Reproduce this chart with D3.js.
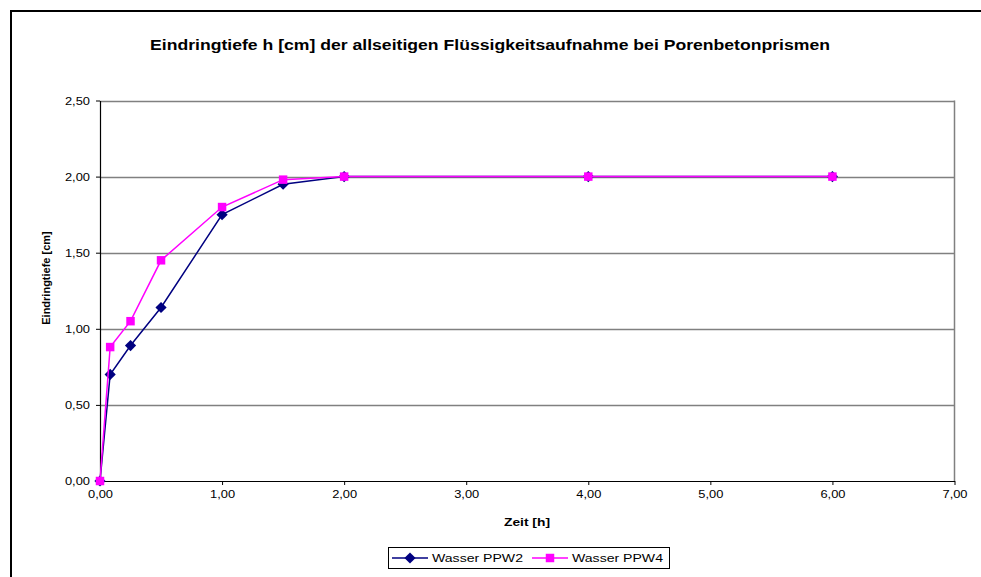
<!DOCTYPE html>
<html><head><meta charset="utf-8">
<script src="https://cdn.jsdelivr.net/npm/d3@7"></script>
<style>body{margin:0;background:#fff}svg{display:block;font-family:"Liberation Sans",Arial,sans-serif}</style>
</head><body><svg id="c" width="981" height="577"></svg>
<script>
const timeH = [0, 0.0833, 0.25, 0.5, 1, 1.5, 2, 4, 6];
const ppw2 = [0, 0.70, 0.89, 1.14, 1.75, 1.95, 2.00, 2.00, 2.00];
const ppw4 = [0, 0.88, 1.05, 1.45, 1.80, 1.98, 2.00, 2.00, 2.00];
const xTicks = [0,1,2,3,4,5,6,7];
const yTicks = [0,0.5,1,1.5,2,2.5];
const seriesNames = ["Wasser PPW2","Wasser PPW4"];
const title = "Eindringtiefe h [cm] der allseitigen Flüssigkeitsaufnahme bei Porenbetonprismen";
const xTitle = "Zeit [h]", yTitle = "Eindringtiefe [cm]";

const svg = d3.select("#c");
const fmt = v => d3.format(".2f")(v).replace(".", ",");
const L=100, R=954.5, T=100.5, B=481;
const SX = 1.17;
const x = d3.scaleLinear().domain([0,7]).range([L,R]);
const y = d3.scaleLinear().domain([0,2.5]).range([B,T]);

// outer border
svg.append("path").attr("d","M11,590 V11 H990").attr("fill","none").attr("stroke","#000").attr("stroke-width",2);

svg.append("text").attr("x",490).attr("y",50).attr("text-anchor","middle")
  .attr("font-weight","bold").attr("font-size",14.5)
  .attr("textLength",680).attr("lengthAdjust","spacingAndGlyphs").text(title);

// grid
svg.append("g").selectAll("line").data(yTicks.filter(d=>d>0)).join("line")
  .attr("x1",L).attr("x2",R).attr("y1",d=>Math.round(y(d))+0.5).attr("y2",d=>Math.round(y(d))+0.5)
  .attr("stroke","#808080").attr("stroke-width",1.5);
svg.append("line").attr("x1",R).attr("x2",R).attr("y1",T).attr("y2",B).attr("stroke","#808080").attr("stroke-width",1.5);

// axes
const xa = svg.append("g").attr("transform",`translate(0,${B})`)
  .call(d3.axisBottom(x).tickValues(xTicks).tickFormat(fmt).tickSizeInner(4).tickSizeOuter(0).tickPadding(5));
const ya = svg.append("g").attr("transform",`translate(${L},0)`)
  .call(d3.axisLeft(y).tickValues(yTicks).tickFormat(fmt).tickSizeInner(4).tickSizeOuter(0).tickPadding(6));
[xa,ya].forEach(a=>{a.select(".domain").attr("stroke","#000").attr("stroke-width",1.2);
  a.selectAll(".tick line").attr("stroke","#000");
  a.selectAll("text").attr("font-size",11).attr("fill","#000").attr("font-family","Liberation Sans, Arial, sans-serif")
   .each(function(){const t=d3.select(this);const tx=+t.attr("x")||0, ty=+t.attr("y")||0;
     t.attr("x",0).attr("y",0).attr("transform",`translate(${tx},${ty}) scale(${SX},1)`);});});

svg.append("text").attr("x",527).attr("y",526).attr("text-anchor","middle").attr("font-weight","bold").attr("font-size",11)
  .attr("textLength",46).attr("lengthAdjust","spacingAndGlyphs").text(xTitle);
svg.append("text").attr("transform","translate(50,278) rotate(-90)").attr("text-anchor","middle").attr("font-weight","bold").attr("font-size",11).text(yTitle);

const line = d3.line().x(d=>x(d[0])).y(d=>y(d[1]));
const s2 = timeH.map((t,i)=>[t,ppw2[i]]);
const s4 = timeH.map((t,i)=>[t,ppw4[i]]);
const diamond = d3.symbol().type(d3.symbolDiamond2).size(80);
const square = d3.symbol().type(d3.symbolSquare).size(72);

svg.append("path").datum(s2).attr("d",line).attr("fill","none").attr("stroke","#000080").attr("stroke-width",1.5);
svg.append("g").selectAll("path").data(s2).join("path").attr("d",diamond)
  .attr("transform",d=>`translate(${x(d[0])},${y(d[1])})`).attr("fill","#000080");
svg.append("path").datum(s4).attr("d",line).attr("fill","none").attr("stroke","#ff00ff").attr("stroke-width",1.5);
svg.append("g").selectAll("path").data(s4).join("path").attr("d",square)
  .attr("transform",d=>`translate(${x(d[0])},${y(d[1])})`).attr("fill","#ff00ff");

// legend
const lg = svg.append("g");
lg.append("rect").attr("x",388.5).attr("y",547.5).attr("width",281).attr("height",21).attr("fill","#fff").attr("stroke","#000").attr("stroke-width",1);
const items=[{n:seriesNames[0],c:"#000080",s:diamond,x0:392},{n:seriesNames[1],c:"#ff00ff",s:square,x0:532}];
items.forEach(it=>{
  lg.append("line").attr("x1",it.x0).attr("x2",it.x0+36).attr("y1",558).attr("y2",558).attr("stroke",it.c).attr("stroke-width",1.5);
  lg.append("path").attr("d",it.s).attr("transform",`translate(${it.x0+18},558)`).attr("fill",it.c);
  lg.append("text").attr("x",it.x0+40).attr("y",562).attr("font-size",11.5)
    .attr("textLength",91).attr("lengthAdjust","spacingAndGlyphs").text(it.n);
});
</script></body></html>
